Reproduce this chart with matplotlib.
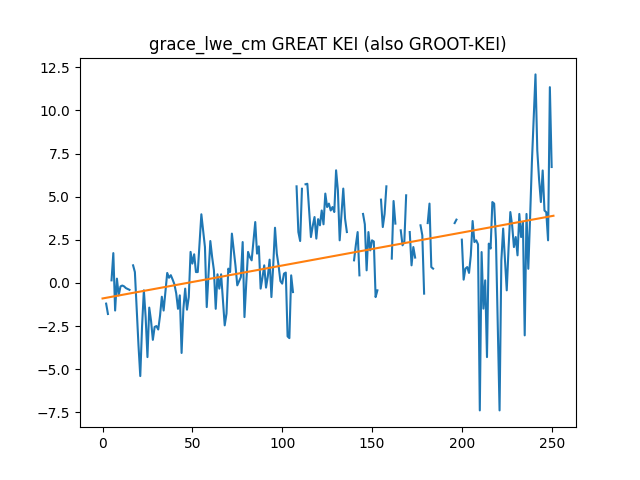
import numpy as np
import matplotlib
matplotlib.use('Agg')
import matplotlib.pyplot as plt

# ------------- Datos -------------
TITLE = "grace_lwe_cm GREAT KEI (also GROOT-KEI)"
nan = np.nan
lwe_cm = [
    nan, nan, -1.2, -1.8, nan, 0.15, 1.73, -1.6, 0.25, -0.72,          # 0-9
    -0.2, -0.15, -0.2, -0.3, -0.35, -0.4, nan, 1.02, 0.63, -1.5,       # 10-19
    -3.6, -5.4, -2.5, -0.43, -2.0, -4.3, -1.43, -2.2, -3.3, -2.55,     # 20-29
    -2.5, -2.7, -1.9, -0.8, -1.6, -0.5, 0.58, 0.3, 0.45, 0.2,          # 30-39
    -0.08, -0.6, -1.5, -0.72, -4.06, -1.5, -0.33, -1.55, -0.82, 1.8,   # 40-49
    1.12, 1.66, 0.63, 0.63, 2.3, 3.98, 3.0, 2.08, -1.4, 0.5,           # 50-59
    2.43, 1.5, 0.73, -1.5, 0.5, -0.33, 0.5, -1.0, -2.46, -1.78,        # 60-69
    0.83, 0.63, 2.86, 1.93, 1.0, -0.14, 0.1, 0.34, 2.37, -1.98,        # 70-79
    0.0, 1.8, 1.5, 1.31, 2.4, 3.53, 1.7, 2.12, -0.33, 0.3,             # 80-89
    1.02, -0.27, 0.38, 1.35, -0.82, 1.0, 3.2, 1.7, 1.0, 0.11,          # 90-99
    -0.04, 0.54, 0.6, -3.1, -3.2, 0.44, -0.53, nan, 5.6, 2.95,         # 100-109
    2.43, 5.46, nan, 5.72, 5.75, 4.2, 2.66, 3.3, 3.82, 2.57,           # 110-119
    3.7, 3.34, 4.2, 3.4, 5.18, 4.4, 4.6, 4.2, 4.4, 4.11,               # 120-129
    6.53, 5.37, 2.47, 4.0, 5.47, 3.72, 2.95, nan, nan, nan,            # 130-139
    1.31, 2.2, 2.95, 0.44, nan, 4.0, 3.4, 0.73, 2.95, 1.89,            # 140-149
    2.47, 2.4, -0.82, -0.43, nan, 4.83, 3.24, 4.0, 5.6, nan,           # 150-159
    nan, 1.41, 4.75, 3.44, nan, nan, 3.05, 2.18, 2.4, 5.08,            # 160-169
    nan, 2.95, 1.02, 2.08, 1.47, nan, nan, 3.34, 2.76, -0.62,          # 170-179
    nan, 3.47, 4.6, 0.92, 0.83, nan, nan, nan, nan, nan,               # 180-189
    nan, nan, nan, nan, nan, nan, 3.47, 3.67, nan, nan,                # 190-199
    2.51, 0.19, 0.83, 0.92, 0.58, 1.6, 3.59, 2.37, 2.47, 2.24,         # 200-209
    -7.39, 1.79, -1.49, 0.15, -4.3, 2.28, 1.99, 4.69, 4.6, 2.47,       # 210-219
    -2.4, -7.39, 1.31, 3.15, 1.4, -0.43, 2.0, 4.11, 3.34, 2.08,        # 220-229
    2.66, 1.6, 4.0, 2.66, 3.5, -3.04, 4.0, 0.82, 3.8, 7.0,             # 230-239
    9.5, 12.09, 7.68, 6.0, 4.69, 6.52, 4.2, 4.1, 2.47, 11.35,          # 240-249
    6.72, nan,                                                          # 250-251
]

# tendencia lineal (cm en x=0, cm/paso)
TREND_INTERCEPT = -0.9
TREND_SLOPE = 0.0191

y = np.array(lwe_cm, dtype=float)
x = np.arange(len(y))
trend = TREND_INTERCEPT + TREND_SLOPE * x

# ------------- Grafica -------------
fig, ax = plt.subplots(figsize=(6.4, 4.8), dpi=100)
ax.plot(x, y)
ax.plot(x, trend)
ax.set_title(TITLE)
fig.savefig("out.png")
plt.close(fig)
